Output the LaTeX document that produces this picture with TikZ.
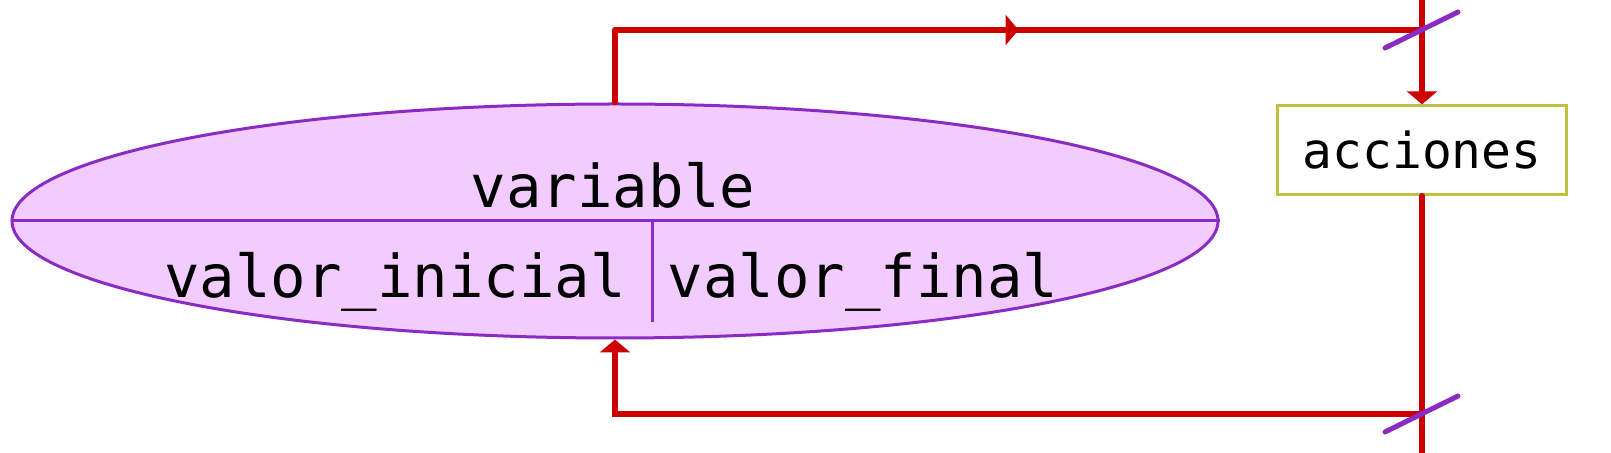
\documentclass[tikz,border=0pt]{standalone}
\usepackage{fontspec}
\setmonofont{DejaVu Sans Mono}
\usetikzlibrary{arrows.meta,shapes.geometric,decorations.markings}
\definecolor{flowred}{HTML}{CC0000}
\definecolor{varline}{HTML}{8A2BC4}
\definecolor{varfill}{HTML}{F2CCFF}
\definecolor{boxline}{HTML}{C0C040}

\begin{document}
\begin{tikzpicture}[x=0.5pt, y=-0.5pt,
  flow/.style={flowred, line width=2.7pt, line cap=round},
  intip/.style={-{Triangle[length=6.5pt,width=15pt]}},
  midtip/.style={postaction={decorate}, decoration={markings,
    mark=at position 0.5 with {\arrow{Triangle[length=6.5pt,width=15pt]}}}},
  slash/.style={varline, line width=2.5pt, line cap=round},
  bigtext/.style={font=\ttfamily\fontsize{29.5}{34}\selectfont},
  smalltext/.style={font=\ttfamily\fontsize{24.8}{30}\selectfont}]

  \useasboundingbox (0,0) rectangle (1611,453);

  % ============== the variable record ==============
  \node[ellipse, draw=varline, fill=varfill, line width=1.5pt, inner sep=0pt,
    minimum width=603pt, minimum height=117pt] (var) at (615,221) {};
  \draw[varline, line width=1.5pt] (var.west) -- (var.east);
  \draw[varline, line width=1.5pt] (652,221) -- (652,322);
  \node[bigtext, anchor=base] (vname) at (613,208) {variable};
  \node[bigtext, anchor=base] (vini) at (395,298) {valor\_inicial};
  \node[bigtext, anchor=base] (vfin) at (863,298) {valor\_final};

  % ============== the actions box ==============
  \node[draw=boxline, line width=1.2pt, inner sep=0pt, smalltext,
    minimum width=144.5pt, minimum height=44.5pt] (acc) at (1422,150) {acciones};

  % wire ends and corners
  \coordinate (wtop) at (1422,0);
  \coordinate (wbot) at (1422,453);
  \coordinate (tl) at (615,30);
  \coordinate (tr) at (1422,30);
  \coordinate (bl) at (615,414);
  \coordinate (br) at (1422,414);

  % loop wires
  \draw[flow] (var.north) -- (tl);
  \draw[flow, midtip] (tl) -- (tr);
  \draw[flow, intip] (wtop) -- (acc.north);
  \draw[flow] (acc.south) -- (wbot);
  \draw[flow, intip] (br) -- (bl) -- (var.south);

  % cut marks
  \draw[slash] (tr) ++(-37,18) -- ++(73,-36);
  \draw[slash] (br) ++(-37,18) -- ++(73,-36);

\end{tikzpicture}
\end{document}
